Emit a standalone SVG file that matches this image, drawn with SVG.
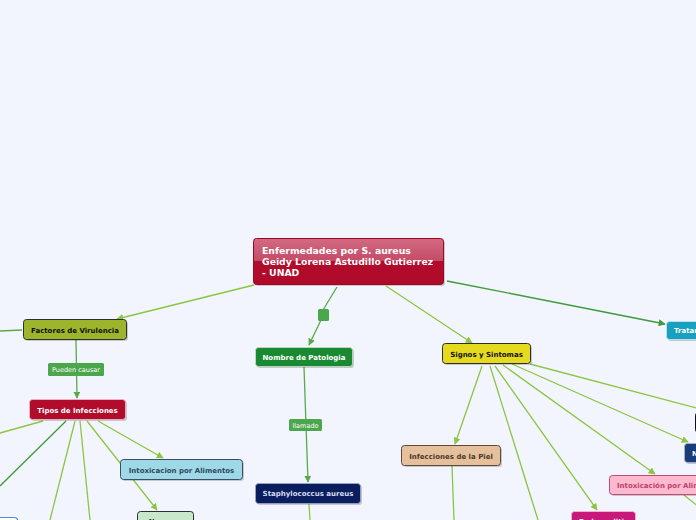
<svg xmlns="http://www.w3.org/2000/svg" width="696" height="520" viewBox="0 0 696 520">
<defs>
<linearGradient id="gC" x1="0" y1="0" x2="0" y2="1">
<stop offset="0" stop-color="#d36a82"/>
<stop offset="0.5" stop-color="#c44a66"/>
<stop offset="0.5" stop-color="#b20c2c"/>
<stop offset="1" stop-color="#b00a2a"/>
</linearGradient>
<marker id="aL" viewBox="0 0 10 10" refX="9" refY="5" markerWidth="7" markerHeight="7" markerUnits="userSpaceOnUse" orient="auto"><path d="M0,0 L10,5 L0,10 z" fill="#8cc540"/></marker>
<marker id="aM" viewBox="0 0 10 10" refX="9" refY="5" markerWidth="7" markerHeight="7" markerUnits="userSpaceOnUse" orient="auto"><path d="M0,0 L10,5 L0,10 z" fill="#5aaa48"/></marker>
<marker id="aD" viewBox="0 0 10 10" refX="9" refY="5" markerWidth="7" markerHeight="7" markerUnits="userSpaceOnUse" orient="auto"><path d="M0,0 L10,5 L0,10 z" fill="#3f9a3a"/></marker>
</defs>
<style>
.bg{fill:#f2f5fd}
line,polyline{fill:none;stroke-width:1.3}
.l{stroke:#8cc540}
.m{stroke:#5aaa48}
.d{stroke:#3f9a3a}
.sh{fill:#000;opacity:0.18}
.t{font-family:"DejaVu Sans",Verdana,sans-serif;font-weight:bold;font-size:7px}
.lbl{font-family:"DejaVu Sans",Verdana,sans-serif;font-size:6.5px;fill:#ffffff}
</style>
<rect class="bg" x="0" y="0" width="696" height="520"/>

<g id="connectors">
<line class="l" x1="254" y1="285" x2="117" y2="319" marker-end="url(#aL)"/>
<line class="m" x1="0" y1="331" x2="22" y2="330"/>
<line class="m" x1="76" y1="340" x2="77" y2="398" marker-end="url(#aM)"/>
<line class="m" x1="337" y1="287" x2="323" y2="310"/>
<line class="m" x1="321" y1="320" x2="309" y2="345" marker-end="url(#aM)"/>
<line class="m" x1="304" y1="367" x2="308" y2="482" marker-end="url(#aM)"/>
<line class="l" x1="309" y1="504" x2="310" y2="520"/>
<line class="l" x1="386" y1="286" x2="472" y2="343" marker-end="url(#aL)"/>
<line class="d" x1="447" y1="281" x2="665" y2="324" marker-end="url(#aD)"/>
<line class="l" x1="482" y1="366" x2="455" y2="444" marker-end="url(#aL)"/>
<line class="l" x1="490" y1="366" x2="538" y2="520"/>
<line class="l" x1="495" y1="366" x2="597" y2="510" marker-end="url(#aL)"/>
<line class="l" x1="503" y1="365" x2="655" y2="474" marker-end="url(#aL)"/>
<line class="l" x1="512" y1="364" x2="688" y2="442" marker-end="url(#aL)"/>
<line class="l" x1="530" y1="364" x2="700" y2="409"/>
<line class="l" x1="452" y1="466" x2="454" y2="520"/>
<line class="l" x1="684" y1="495" x2="700" y2="508"/>
<line class="l" x1="43" y1="421" x2="0" y2="433"/>
<line class="d" x1="66" y1="421" x2="0" y2="486"/>
<line class="l" x1="75" y1="421" x2="50" y2="520"/>
<line class="l" x1="80" y1="421" x2="90" y2="520"/>
<line class="l" x1="87" y1="421" x2="157" y2="510" marker-end="url(#aL)"/>
<line class="l" x1="98" y1="421" x2="163" y2="458" marker-end="url(#aL)"/>
<rect x="318" y="309" width="11" height="12" rx="1.5" fill="#4ca64c"/>
<rect x="48" y="363" width="56" height="13" rx="1.5" fill="#4ca64c"/>
<text class="lbl" x="76" y="372" text-anchor="middle">Pueden causar</text>
<rect x="289" y="419" width="33" height="12" rx="1.5" fill="#4ca64c"/>
<text class="lbl" x="305.5" y="427.5" text-anchor="middle">llamado</text>
</g>

<g id="central">
<rect class="sh" x="255" y="240" width="190" height="46" rx="3"/>
<rect x="253.5" y="238.5" width="190" height="46" rx="3" fill="url(#gC)" stroke="#9a0822" stroke-width="1"/>
<text font-family="'DejaVu Sans',Verdana,sans-serif" font-weight="bold" font-size="9.3" fill="#ffffff">
<tspan x="262" y="254">Enfermedades por S. aureus</tspan>
<tspan x="262" y="265">Geidy Lorena Astudillo Gutierrez</tspan>
<tspan x="262" y="276">- UNAD</tspan>
</text>
</g>

<g id="factores">
<rect class="sh" x="25" y="321" width="103" height="20" rx="3"/>
<rect x="23.5" y="319.5" width="103" height="20" rx="3" fill="#9db52c" stroke="#2e2e2e" stroke-width="1"/>
<text class="t" x="75" y="332.5" text-anchor="middle" fill="#111111">Factores de Virulencia</text>
</g>

<g id="tipos">
<rect class="sh" x="31" y="401" width="96" height="20" rx="3"/>
<rect x="29.5" y="399.5" width="96" height="20" rx="3" fill="#b20c2c" stroke="#e8c0c8" stroke-width="0.8"/>
<text class="t" x="77.5" y="412.5" text-anchor="middle" fill="#ffffff">Tipos de Infecciones</text>
</g>

<g id="nombre">
<rect class="sh" x="257" y="349" width="97" height="19" rx="3"/>
<rect x="255.5" y="347.5" width="97" height="19" rx="3" fill="#1a8a32" stroke="#c8e0c8" stroke-width="0.8"/>
<text class="t" x="304" y="359.5" text-anchor="middle" fill="#ffffff">Nombre de Patologia</text>
</g>

<g id="staph">
<rect class="sh" x="257" y="485" width="105" height="20" rx="3"/>
<rect x="255.5" y="483.5" width="105" height="20" rx="3" fill="#0a1e5e" stroke="#9aa8c8" stroke-width="0.8"/>
<text class="t" x="308" y="496" text-anchor="middle" fill="#d4dcf0">Staphylococcus aureus</text>
</g>

<g id="signos">
<rect class="sh" x="444" y="345" width="88" height="20" rx="3"/>
<rect x="442.5" y="343.5" width="88" height="20" rx="3" fill="#e6da1e" stroke="#2e2e2e" stroke-width="1"/>
<text class="t" x="486.5" y="356.5" text-anchor="middle" fill="#111111">Signos y Sintomas</text>
</g>

<g id="tratamiento">
<rect class="sh" x="668" y="323" width="80" height="18" rx="3"/>
<rect x="666.5" y="321.5" width="80" height="18" rx="3" fill="#17a0c0" stroke="#c8e8f0" stroke-width="0.8"/>
<text class="t" x="674" y="333" fill="#ffffff">Tratamiento</text>
</g>

<g id="piel">
<rect class="sh" x="403" y="447" width="99" height="20" rx="3"/>
<rect x="401.5" y="445.5" width="99" height="20" rx="3" fill="#e6c09c" stroke="#5a4a3a" stroke-width="1"/>
<text class="t" x="451" y="458.5" text-anchor="middle" fill="#4a3a2c">Infecciones de la Piel</text>
</g>

<g id="intox-alimentos">
<rect class="sh" x="122" y="461" width="122" height="20" rx="3"/>
<rect x="120.5" y="459.5" width="122" height="20" rx="3" fill="#9fd8e6" stroke="#3a5060" stroke-width="1"/>
<text class="t" x="181.5" y="472.5" text-anchor="middle" fill="#2d4a5a">Intoxicacion por Alimentos</text>
</g>

<g id="nauseas">
<rect x="137.5" y="511.5" width="56" height="20" rx="3" fill="#c8e8cc" stroke="#2e2e2e" stroke-width="1"/>
<text class="t" x="165.5" y="523.5" text-anchor="middle" fill="#1a3a1a">Nauseas</text>
</g>

<g id="endocarditis">
<rect x="571.5" y="511.5" width="64" height="20" rx="3" fill="#c8187a" stroke="#f0c0d8" stroke-width="0.8"/>
<text class="t" x="603.5" y="523.5" text-anchor="middle" fill="#ffffff">Endocarditis</text>
</g>

<g id="intoxicacion">
<rect class="sh" x="611" y="477" width="130" height="19" rx="3"/>
<rect x="609.5" y="475.5" width="130" height="19" rx="3" fill="#fdb9cf" stroke="#c04a74" stroke-width="1"/>
<text class="t" x="617" y="488" fill="#c0406a">Intoxicación por Alimentos</text>
</g>

<g id="nodo-n">
<rect class="sh" x="686" y="445" width="60" height="19" rx="3"/>
<rect x="684.5" y="443.5" width="60" height="19" rx="3" fill="#1a3c78" stroke="#a8b8d8" stroke-width="0.8"/>
<text class="t" x="692" y="456" fill="#ffffff">N</text>
</g>

<g id="nodo-oscuro">
<rect x="695.5" y="412.5" width="40" height="20" rx="3" fill="#2a2018" stroke="#111111" stroke-width="1"/>
</g>

<g id="nodo-azul">
<rect x="-20.5" y="517.5" width="38" height="20" rx="3" fill="#ffffff" stroke="#4a90e0" stroke-width="1.2"/>
</g>
</svg>
